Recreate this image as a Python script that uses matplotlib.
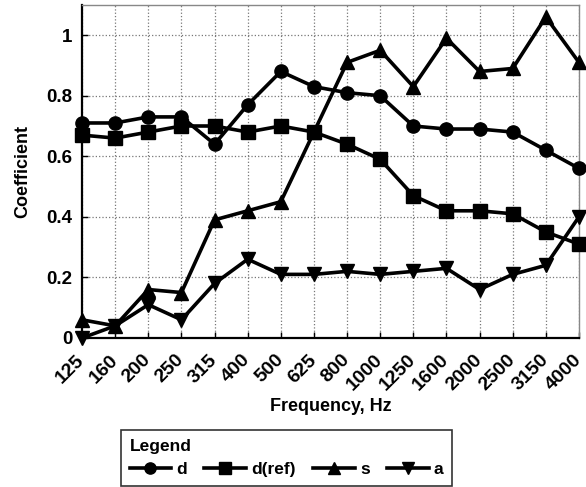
import matplotlib
matplotlib.use('Agg')
import matplotlib.pyplot as plt

plt.rcParams['font.family'] = ['Liberation Sans', 'DejaVu Sans']
plt.rcParams['font.weight'] = 'bold'

freqs = ['125', '160', '200', '250', '315', '400', '500', '625', '800',
         '1000', '1250', '1600', '2000', '2500', '3150', '4000']
d_vals = [0.71, 0.71, 0.73, 0.73, 0.64, 0.77, 0.88, 0.83, 0.81, 0.80,
          0.70, 0.69, 0.69, 0.68, 0.62, 0.56]
dref_vals = [0.67, 0.66, 0.68, 0.70, 0.70, 0.68, 0.70, 0.68, 0.64, 0.59,
             0.47, 0.42, 0.42, 0.41, 0.35, 0.31]
s_vals = [0.06, 0.04, 0.16, 0.15, 0.39, 0.42, 0.45, 0.68, 0.91, 0.95,
          0.83, 0.99, 0.88, 0.89, 1.06, 0.91]
a_vals = [0.00, 0.04, 0.11, 0.06, 0.18, 0.26, 0.21, 0.21, 0.22, 0.21,
          0.22, 0.23, 0.16, 0.21, 0.24, 0.40]
yticks = [0, 0.2, 0.4, 0.6, 0.8, 1]
ytick_labels = ['0', '0.2', '0.4', '0.6', '0.8', '1']

series = [('d', d_vals, 'o'), ('d(ref)', dref_vals, 's'),
          ('s', s_vals, '^'), ('a', a_vals, 'v')]

fig = plt.figure(figsize=(5.86, 4.87), dpi=100)
ax = fig.add_axes([0.14, 0.306, 0.848, 0.684])

xs = list(range(len(freqs)))
for label, vals, marker in series:
    ax.plot(xs, vals, color='black', lw=2.6, marker=marker, ms=9.5,
            label=label, clip_on=False, zorder=3)

ax.set_xlim(0, len(freqs) - 1)
ax.set_ylim(0, 1.1)
ax.set_xticks(xs)
ax.set_xticklabels(freqs, rotation=45, ha='right', va='center',
                   rotation_mode='anchor', fontsize=14, fontweight='bold')
ax.set_yticks(yticks)
ax.set_yticklabels(ytick_labels, fontsize=13.5, fontweight='bold')
ax.tick_params(direction='in', length=4, width=1)
ax.tick_params(axis='x', pad=14)
ax.tick_params(axis='y', pad=7)
ax.grid(True, color='#777777', linestyle=':', linewidth=0.9)
ax.set_axisbelow(True)

for side in ('left', 'bottom'):
    ax.spines[side].set_color('black')
    ax.spines[side].set_linewidth(1.6)
for side in ('top', 'right'):
    ax.spines[side].set_color('#888888')
    ax.spines[side].set_linewidth(1)

ax.set_xlabel('Frequency, Hz', fontsize=13, fontweight='bold', labelpad=3)
ax.set_ylabel('Coefficient', fontsize=13, fontweight='bold', labelpad=11)

leg = fig.legend(loc='lower center', bbox_to_anchor=(0.489, 0.002),
                 ncol=4, title='Legend', fontsize=12.5,
                 title_fontproperties={'weight': 'bold', 'size': 12.5},
                 frameon=True, fancybox=False, edgecolor='black',
                 handlelength=2.4, handletextpad=0.3, columnspacing=1.0,
                 markerscale=0.85, borderpad=0.5, borderaxespad=0)
leg._legend_box.align = 'left'
leg.get_frame().set_linewidth(1.2)

fig.savefig('out.png', dpi=100)
